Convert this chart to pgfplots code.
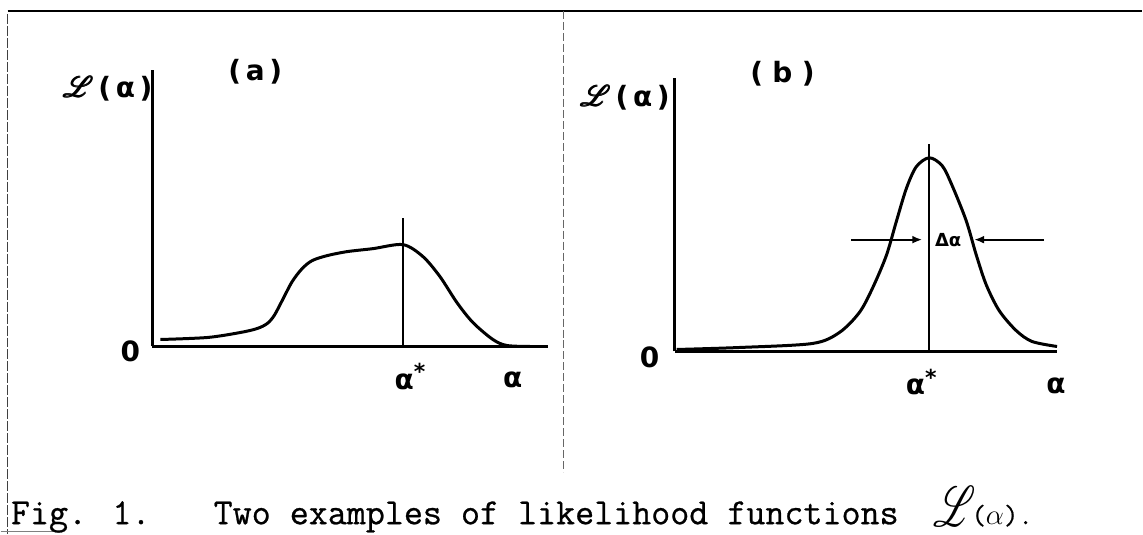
\documentclass[border=0pt]{standalone}
\usepackage{fontspec}
\usepackage{mathrsfs}
\usepackage{pgfplots}
\usepackage{pgfplotstable}
\pgfplotsset{compat=1.18}
\usetikzlibrary{arrows.meta}

\newfontfamily\labfont{DejaVu Sans}
\newfontfamily\capfont[FakeBold=0.7]{Latin Modern Mono}

% heavy script L used in the axis labels
\newcommand\heavyL{%
  \makebox[0pt][l]{$\mathscr{L}$}%
  \makebox[0pt][l]{\hspace{0.35pt}$\mathscr{L}$}%
  \makebox[0pt][l]{\raisebox{0.35pt}{$\mathscr{L}$}}%
  \hspace{0.35pt}\raisebox{0.35pt}{$\mathscr{L}$}}

% (a): broad, skewed likelihood
\pgfplotstableread{
alpha L
8 7
55 9
88 14
105 18
115 23
122 31
130 46
140 65
150 78
160 86
175 91
195 95
221 98
251 102
271 90
288 70
305 44
321 24
341 7
355 1
378 0
}\curvea

% (b): narrow, peaked likelihood
\pgfplotstableread{
alpha L
2 2
65 4
138 8
165 19
185 39
198 63
212 96
222 130
232 163
242 185
255 194
268 186
278 166
292 131
302 97
312 67
325 41
342 21
358 10
383 5
}\curveb

\pgfplotsset{
  sketch/.style={
    scale only axis, clip=false,
    xmin=0, ymin=0,
    axis x line=bottom, axis y line=left,
    axis line style={-, line width=1.6pt},
    xtick=\empty, ytick=\empty,
  },
}

\begin{document}
\begin{tikzpicture}
\begin{scope}[x=0.5pt,y=-0.5pt]
  \useasboundingbox (0,0) rectangle (1143,535);
\end{scope}

\begin{axis}[sketch, at={(76pt,-173.5pt)}, anchor=south west,
  width=198pt, height=138.5pt, xmax=396, ymax=277]
  \addplot[line width=1.5pt, smooth, tension=0.5] table[x=alpha, y=L] {\curvea};
  \addplot[line width=1pt] coordinates {(251,0) (251,129)};
\end{axis}

\begin{axis}[sketch, at={(337.5pt,-176pt)}, anchor=south west,
  width=191.5pt, height=137pt, xmax=383, ymax=274]
  \addplot[line width=1.5pt, smooth, tension=0.5] table[x=alpha, y=L] {\curveb};
  \addplot[line width=1pt] coordinates {(255,0) (255,208)};
  \draw[line width=1.1pt, -{Latex[length=5pt,width=4pt]}] (axis cs:177,112) -- (axis cs:248,112);
  \draw[line width=1.1pt, -{Latex[length=5pt,width=4pt]}] (axis cs:370,112) -- (axis cs:300,112);
  \node[font=\labfont\bfseries\fontsize{9}{9}\selectfont] at (axis cs:274,112) {Δα};
\end{axis}

\begin{scope}[x=0.5pt,y=-0.5pt]
  % frame
  \draw[line width=1.1pt] (7,11) -- (1143,11);
  \draw[line width=0.5pt, black!75, dash pattern=on 5pt off 1pt] (7,14) -- (7,535);
  \draw[line width=0.5pt, black!60, dash pattern=on 4pt off 1.5pt] (564,11) -- (564,473);
  \draw[line width=0.6pt, black!50] (0,532) -- (55,532);

  \begin{scope}[every node/.style={font=\labfont\bfseries\fontsize{14}{14}\selectfont, inner sep=0pt}]
    % panel (a) labels
    \node at (107,89) {{\fontsize{15}{15}\selectfont\heavyL}\,(\,α\,)};
    \node at (255,72) {(\,a\,)};
    \node at (130,352) {0};
    \node at (410,377) {α\raisebox{0.6ex}{\fontsize{11}{11}\selectfont *}};
    \node at (513,380) {α};
    % panel (b) labels
    \node at (625,98) {{\fontsize{15}{15}\selectfont\heavyL}\,(\,α\,)};
    \node at (783,74) {(\,\,b\,\,)};
    \node at (650,358) {0};
    \node at (922,383) {α\raisebox{0.6ex}{\fontsize{11}{11}\selectfont *}};
    \node at (1057,386) {α};
  \end{scope}

  % caption
  \node[anchor=base west, inner sep=0pt, font=\capfont\fontsize{18.5}{20}\selectfont] at (10,525) {Fig. 1.};
  \node[anchor=base west, inner sep=0pt, font=\capfont\fontsize{18.5}{20}\selectfont] at (213,525) {Two examples of likelihood functions};
  \node[anchor=base west, inner sep=0pt, font=\fontsize{26}{26}\selectfont] at (934,527) {\scalebox{0.8}[1.15]{$\mathscr{L}$}};
  \node[anchor=base west, inner sep=0pt, font=\capfont\fontsize{14}{15}\selectfont] at (972,525) {($\alpha$).};
\end{scope}
\end{tikzpicture}
\end{document}
